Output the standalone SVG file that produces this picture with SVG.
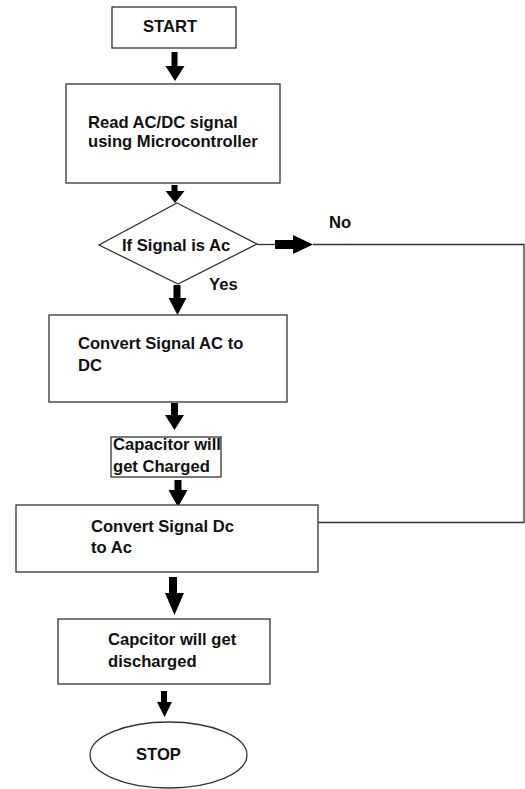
<svg xmlns="http://www.w3.org/2000/svg" width="525" height="789" viewBox="0 0 525 789">
  <style>
    .box { fill: #fff; stroke: #333; stroke-width: 1.3; }
    .lbl { font-family: "Liberation Sans", Arial, sans-serif; font-size: 16.6px; font-weight: bold; fill: #111; }
    .wire { fill: none; stroke: #333; stroke-width: 1.3; }
    .arrow { fill: #000; }
  </style>
  <rect width="525" height="789" fill="#fff"/>

  <!-- connectors -->
  <g id="connectors">
    <!-- block arrows down the main flow -->
    <path class="arrow" d="M171.5,52 h6 v14 h7 l-9.5,15 l-9.5,-15 h6 z"/>
    <path class="arrow" d="M171.5,185 h6 v6 h7 l-9.5,12 l-9.5,-12 h6 z"/>
    <path class="arrow" d="M173.5,285 h7 v13 h6 l-9,17 l-9,-17 h5 z"/>
    <path class="arrow" d="M171,403 h7 v12 h6 l-9.5,15 l-9.5,-15 h6 z"/>
    <path class="arrow" d="M174.5,480 h7 v10 h6 l-9.5,17 l-9.5,-17 h6 z"/>
    <path class="arrow" d="M169,577 h8 v16 h7 l-9.5,22 l-9.5,-22 h4 z"/>
    <path class="arrow" d="M161,691 h6 v11 h5 l-7.5,15 l-7.5,-15 h4 z"/>
    <!-- "No" branch: block arrow then return line -->
    <path class="wire" d="M257,244.5 H275"/>
    <path class="arrow" d="M275,240 h18 v-5 l20,9.5 l-20,9.5 v-5 h-18 z"/>
    <path class="wire" d="M313,244.5 H524 V522.5 H318"/>
  </g>

  <g id="start">
    <rect class="box" x="112" y="7" width="124" height="41"/>
    <text class="lbl" x="143" y="32">START</text>
  </g>

  <g id="read">
    <rect class="box" x="66" y="84" width="214" height="99"/>
    <text class="lbl" x="88" y="128">Read AC/DC signal</text>
    <text class="lbl" x="88" y="147">using Microcontroller</text>
  </g>

  <g id="decision">
    <polygon class="box" points="177,203 257,244 178,284 99,245"/>
    <text class="lbl" x="122" y="251">If Signal is Ac</text>
  </g>

  <g id="branch-labels">
    <text class="lbl" x="329" y="228">No</text>
    <text class="lbl" x="209" y="290">Yes</text>
  </g>

  <g id="ac-to-dc">
    <rect class="box" x="49" y="315" width="238" height="87"/>
    <text class="lbl" x="78" y="349">Convert Signal AC to</text>
    <text class="lbl" x="78" y="371">DC</text>
  </g>

  <g id="charge">
    <rect class="box" x="111" y="437" width="110" height="40"/>
    <text class="lbl" x="113" y="450">Capacitor will</text>
    <text class="lbl" x="113" y="472">get Charged</text>
  </g>

  <g id="dc-to-ac">
    <rect class="box" x="16" y="505" width="302" height="67"/>
    <text class="lbl" x="91" y="532">Convert Signal Dc</text>
    <text class="lbl" x="91" y="553">to Ac</text>
  </g>

  <g id="discharge">
    <rect class="box" x="58" y="619" width="212" height="65"/>
    <text class="lbl" x="108" y="645">Capcitor will get</text>
    <text class="lbl" x="108" y="667">discharged</text>
  </g>

  <g id="stop">
    <ellipse class="box" cx="168.5" cy="755" rx="78.5" ry="33"/>
    <text class="lbl" x="136" y="760">STOP</text>
  </g>
</svg>
